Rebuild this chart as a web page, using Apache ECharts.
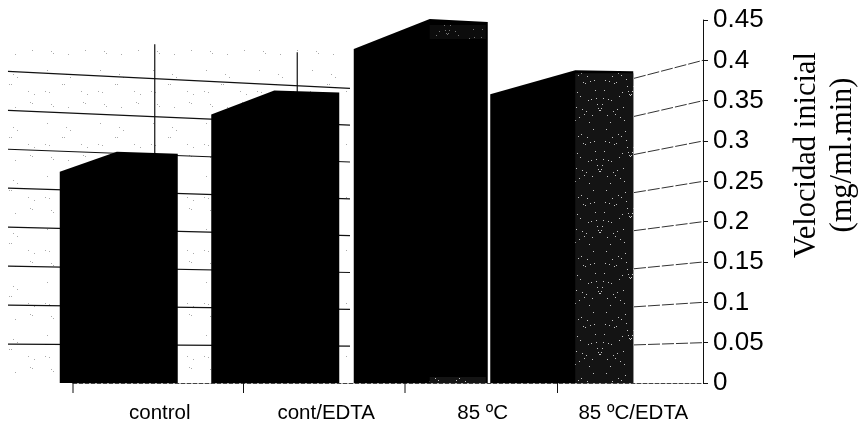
<!DOCTYPE html>
<html>
<head>
<meta charset="utf-8">
<style>
html, body { margin: 0; padding: 0; background: #fff; }
#main { width: 858px; height: 425px; }
</style>
<script src="https://cdn.jsdelivr.net/npm/echarts@6/dist/echarts.min.js"></script>
</head>
<body>
<div id="main"></div>
<script>
// datos
var categories = ['control', 'cont/EDTA', '85 ºC', '85 ºC/EDTA'];
var velocidad = [0.262, 0.333, 0.414, 0.358];
var tickValues = [0.05, 0.1, 0.15, 0.2, 0.25, 0.3, 0.35, 0.4];
var backLineTops = [0.42, 0.41];

// forma de las barras en pseudo 3D, en pixeles respecto al centro de categoria
var barLeft = [-92, -98, -113, -134];
var barRight = [26, 30, 21, 9];
var depthX = [57, 63, 76, 85];
var depthY = [20, 24, 30, 24];
var edgeDrop = [2, 2, 3, 1];
var tickShift = [0, 13, 17, 12];
var backLineShift = [3, -12];
var labelShift = [8, 17, 16, 9];

// textura punteada de la pared y de la ultima barra
function makeTile(size, bg, color, count, a, b) {
    var c = document.createElement('canvas');
    c.width = size;
    c.height = size;
    var ctx = c.getContext('2d');
    if (bg) {
        ctx.fillStyle = bg;
        ctx.fillRect(0, 0, size, size);
    }
    ctx.fillStyle = color;
    for (var i = 0; i < count; i++) {
        ctx.fillRect((i * a) % size, (i * i * b + i) % size, 1, 1);
    }
    return c;
}
var wallTile = makeTile(53, null, '#aaa', 14, 17, 23);
var sideTile = makeTile(61, '#141414', '#c4c4c4', 200, 29, 13);

function renderWall(params, api) {
    var v = api.value(0);
    var rect = params.coordSys;
    var xr = rect.x + rect.width;
    var y = api.coord([0, v])[1];
    var nodes = [[-695, 27.5], [-353, 70], [-69, 45], [0, 0]];
    var pts = nodes.map(function (n) {
        return [xr + n[0], y + n[1] * v];
    });
    return {
        type: 'group',
        children: [
            {type: 'polyline', shape: {points: pts.slice(0, 2)}, style: {fill: null, stroke: '#111', lineWidth: 1.2}},
            {type: 'polyline', shape: {points: pts.slice(2)}, style: {fill: null, stroke: '#333', lineWidth: 1, lineDash: [12, 2]}}
        ]
    };
}

function renderBackLine(params, api) {
    var p = api.coord([api.value(0), api.value(1)]);
    var base = api.coord([api.value(0), 0]);
    var x = p[0] + backLineShift[params.dataIndex];
    return {
        type: 'line',
        shape: {x1: x, y1: p[1], x2: x, y2: base[1]},
        style: {stroke: '#111', lineWidth: 1.2}
    };
}

function renderBar(params, api) {
    var i = params.dataIndex;
    var top = api.coord([api.value(0), api.value(1)]);
    var base = api.coord([api.value(0), 0]);
    var left = top[0] + barLeft[i];
    var right = top[0] + barRight[i];
    var peakX = left + depthX[i];
    var peakY = top[1] - depthY[i];
    var children = [{
        type: 'polygon',
        shape: {points: [[left, base[1]], [left, top[1]], [peakX, peakY], [right, peakY + edgeDrop[i]], [right, base[1]]]},
        style: {fill: '#000'}
    }];
    var side = {image: sideTile, repeat: 'repeat'};
    if (i === 3) {
        children.push({
            type: 'rect',
            shape: {x: peakX, y: peakY + edgeDrop[i] + 2, width: right - peakX, height: base[1] - peakY - edgeDrop[i] - 2},
            style: {fill: side}
        });
    }
    if (i === 2) {
        // restos de trama arriba y abajo de la tercera barra
        children.push({
            type: 'rect',
            shape: {x: peakX, y: peakY + 6, width: right - peakX - 2, height: 14},
            style: {fill: side, opacity: 0.6}
        });
        children.push({
            type: 'rect',
            shape: {x: peakX, y: base[1] - 6, width: right - peakX - 2, height: 6},
            style: {fill: side}
        });
    }
    // marca del eje x
    var tx = params.coordSys.x + i * params.coordSys.width / categories.length + tickShift[i];
    children.push({
        type: 'line',
        shape: {x1: tx, y1: base[1], x2: tx, y2: base[1] + 10},
        style: {stroke: '#111', lineWidth: 1}
    });
    return {type: 'group', children: children};
}

function renderStipple(params, api) {
    var rect = params.coordSys;
    return {
        type: 'rect',
        shape: {x: rect.x - 65, y: rect.y + 30, width: 340, height: rect.height - 35},
        style: {fill: {image: wallTile, repeat: 'repeat'}}
    };
}

var myChart = echarts.init(document.getElementById('main'));
var option = {
    animation: false,
    backgroundColor: '#fff',
    grid: {left: 73, right: 155, top: 20, bottom: 42},
    xAxis: {
        type: 'category',
        data: categories.map(function (name, i) {
            return {value: name, textStyle: {padding: [0, 0, 0, labelShift[i] * 2]}};
        }),
        axisLine: {lineStyle: {color: '#444', width: 1, type: 'dashed'}},
        axisTick: {show: false},
        axisLabel: {
            margin: 20,
            fontFamily: 'Liberation Sans',
            fontSize: 20.5,
            color: '#000',
            interval: 0
        },
        splitLine: {show: false}
    },
    yAxis: {
        type: 'value',
        position: 'right',
        min: 0,
        max: 0.45,
        interval: 0.05,
        axisLine: {show: true, onZero: false, lineStyle: {color: '#111', width: 1}},
        axisTick: {show: true, length: 5, lineStyle: {color: '#111'}},
        axisLabel: {margin: 10, fontFamily: 'Liberation Sans', fontSize: 26, color: '#000'},
        splitLine: {show: false}
    },
    graphic: [{
        type: 'text',
        x: 825,
        y: 155,
        rotation: Math.PI / 2,
        style: {
            text: 'Velocidad inicial\n(mg/ml.min)',
            font: '30.5px "Liberation Serif"',
            fill: '#000',
            align: 'center',
            verticalAlign: 'middle',
            lineHeight: 36
        }
    }],
    series: [
        {type: 'custom', name: 'stipple', renderItem: renderStipple, data: [[0]], silent: true, z: 1},
        {type: 'custom', name: 'pared', renderItem: renderWall, data: tickValues.map(function (v) { return [v]; }), encode: {y: 0}, silent: true, z: 2},
        {type: 'custom', name: 'verticales', renderItem: renderBackLine, data: backLineTops.map(function (v, i) { return [i, v]; }), encode: {x: 0, y: 1}, silent: true, z: 2},
        {type: 'custom', name: 'Velocidad inicial', renderItem: renderBar, data: velocidad.map(function (v, i) { return [i, v]; }), encode: {x: 0, y: 1}, z: 3}
    ]
};
myChart.setOption(option);
</script>
</body>
</html>
